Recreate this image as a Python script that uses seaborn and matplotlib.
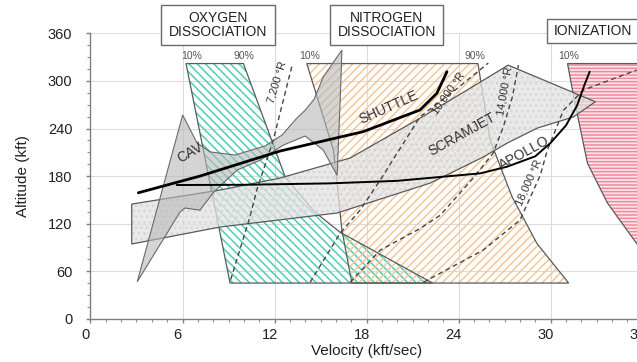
import matplotlib
matplotlib.use("Agg")
import matplotlib.pyplot as plt
from matplotlib.patches import Polygon, Rectangle
from matplotlib.ticker import MultipleLocator
from matplotlib.transforms import ScaledTranslation
import pandas as pd
import seaborn as sns

sns.set_theme(style="whitegrid")
plt.rcParams['font.family'] = ['Liberation Sans', 'DejaVu Sans']
plt.rcParams['hatch.linewidth'] = 1.1

# ---- regions (velocity kft/s, altitude kft) ----
oxy_v = [6.23, 9.97, 12.69, 14.6, 16.28, 22.3, 9.1]
oxy_h = [322, 322, 179, 135, 109, 45, 45]

nit_v = [14.1, 25.26, 26.06, 27.48, 29.1, 31.17, 17.04, 16.39, 15.84]
nit_h = [322, 322, 225, 154, 95, 45, 45, 112, 213]

ion_v = [31.1, 31.5, 32.4, 33.7, 35.6, 36.6, 36.6]
ion_h = [322, 280, 196, 146, 95, 72, 322]

cav_v = [3.05, 6.01, 6.95, 7.8, 9.43, 11.38, 12.49, 13.4, 13.99, 14.58, 15.17, 16.39,
         16.28, 16.08, 15.17, 13.99, 12.56, 11.06, 9.56, 8.64, 7.99, 7.14, 6.16, 5.84]
cav_h = [46.7, 257, 221.8, 210.5, 206.6, 218, 231.8, 252, 263, 277, 305, 339,
         276, 181, 213, 230.5, 219, 200, 187.6, 171, 158.6, 137, 139.7, 134.6]

scram_v = [2.69, 8.45, 12.36, 16.93, 21.5, 24.76, 27.23, 32.91,
           31.47, 29.13, 27.17, 25.6, 22.15, 16.08, 8.45, 2.69]
scram_h = [144.7, 162.4, 177.5, 202.8, 253.3, 291, 320, 273.8,
           254.5, 240.6, 221.7, 204, 171.2, 133.4, 115.7, 94.3]

# ---- trajectories ----
shuttle_v = [3.12, 7.14, 12.36, 17.77, 21.48, 22.58, 23.24]
shuttle_h = [158.9, 180, 211.6, 236, 263.4, 284.5, 311.7]

apollo_v = [5.62, 10.0, 15.6, 20.0, 25.4, 27.15, 29.0, 30.0, 31.0, 31.72, 32.2, 32.54]
apollo_h = [168.7, 169, 170.8, 174, 183.4, 191.8, 205, 222, 244, 269, 295, 311.7]

# ---- constant-temperature lines ----
t7200_v = [13.12, 11.92, 10.84, 10.40, 9.10]
t7200_h = [318, 225.5, 162.4, 128.7, 46.7]
t10000_v = [14.32, 16.28, 17.58, 18.89, 21.49, 23.78, 25.93]
t10000_h = [46, 108, 137, 175, 255, 288.6, 322.6]
t14000_v = [16.93, 18.89, 21.5, 22.8, 24.95, 26.25, 26.91, 27.5, 27.9]
t14000_h = [46, 86.6, 114, 130.6, 177.5, 209, 242, 279.7, 320]
t18000_v = [21.71, 25.6, 28.0, 29.32, 29.78, 30.83, 32.13, 35.6]
t18000_h = [46, 86.6, 124.5, 181, 212.6, 263, 288.6, 313.8]

fig = plt.figure(figsize=(6.37, 3.62), dpi=100)
ax = fig.add_axes([0.142, 0.1196, 0.867, 0.788])
ax.set_xlim(0, 36)
ax.set_ylim(0, 360)


def hatched(vs, hs, color, hatch, z, face='none'):
    pts = list(zip(vs, hs))
    if face != 'none':
        ax.add_patch(Polygon(pts, closed=True, facecolor=face, edgecolor='none', zorder=z - 0.1))
    ax.add_patch(Polygon(pts, closed=True, facecolor='none', edgecolor=color,
                         hatch=hatch, linewidth=0, zorder=z))
    ax.add_patch(Polygon(pts, closed=True, facecolor='none', edgecolor='#5a5a5a',
                         linewidth=0.9, zorder=z + 0.1))


hatched(oxy_v, oxy_h, '#4ccfb0', '\\\\\\\\', 2)
hatched(nit_v, nit_h, '#f4c79a', '////', 2)
hatched(ion_v, ion_h, '#f0899c', '-----', 2, face='#fde6ea')

# translucent vehicle envelopes
scram_pts = list(zip(scram_v, scram_h))
ax.add_patch(Polygon(scram_pts, closed=True, facecolor='#e2e2e2',
                     edgecolor='none', alpha=0.75, zorder=3))
ax.add_patch(Polygon(scram_pts, closed=True, facecolor='none', edgecolor='#cdcdcd',
                     hatch='...', linewidth=0, alpha=0.6, zorder=3.1))
ax.add_patch(Polygon(scram_pts, closed=True, facecolor='none',
                     edgecolor='#5a5a5a', linewidth=0.9, zorder=3.2))
ax.add_patch(Polygon(list(zip(cav_v, cav_h)), closed=True, facecolor='#b8b8b8',
                     edgecolor='none', alpha=0.6, zorder=3.3))
ax.add_patch(Polygon(list(zip(cav_v, cav_h)), closed=True, facecolor='none',
                     edgecolor='#6a6a6a', linewidth=0.8, zorder=3.4))

# temperature lines
for tv, th in [(t7200_v, t7200_h), (t10000_v, t10000_h),
               (t14000_v, t14000_h), (t18000_v, t18000_h)]:
    ax.plot(tv, th, color='#444444', linestyle=(0, (3.5, 2.5)), linewidth=1.0, zorder=4)

# trajectories
traj = pd.concat([
    pd.DataFrame({'v': shuttle_v, 'h': shuttle_h, 'veh': 'Shuttle'}),
    pd.DataFrame({'v': apollo_v, 'h': apollo_h, 'veh': 'Apollo'}),
])
sns.lineplot(data=traj[traj.veh == 'Shuttle'], x='v', y='h', sort=False, estimator=None,
             color='black', linewidth=2.0, ax=ax, zorder=5)
sns.lineplot(data=traj[traj.veh == 'Apollo'], x='v', y='h', sort=False, estimator=None,
             color='black', linewidth=1.4, ax=ax, zorder=5)

txt = dict(color='#333333', fontsize=10, ha='center', va='center', zorder=6)
ax.text(6.49, 210, 'CAV', rotation=30, **txt)
ax.text(19.47, 266.5, 'SHUTTLE', rotation=24, **txt)
ax.text(24.2, 233, 'SCRAMJET', rotation=29, **txt)
ax.text(28.28, 208.7, 'APOLLO', rotation=29, **txt)

tl = dict(color='#333333', fontsize=8, ha='center', va='center', zorder=6)
ax.text(12.15, 298.3, '7,200 °R', rotation=73, **tl)
ax.text(23.32, 284.8, '10,000 °R', rotation=55, **tl)
ax.text(27.04, 287.3, '14,000 °R', rotation=80, **tl)
ax.text(28.6, 172, '18,000 °R', rotation=66, **tl)

pc = dict(color='#555555', fontsize=7.5, ha='center', va='center', zorder=6, clip_on=False)
for xv, lab in [(6.6, '10%'), (10.0, '90%'), (14.32, '10%'), (25.08, '90%'), (31.15, '10%')]:
    ax.text(xv, 331, lab, **pc)

# boxed region titles above the plot
for (x0, x1, y0, y1, xc, yc, lab) in [
        (4.6, 12.04, 345.4, 395.8, 8.32, 370.6, 'OXYGEN\nDISSOCIATION'),
        (15.62, 23.01, 345.4, 395.8, 19.32, 370.6, 'NITROGEN\nDISSOCIATION'),
        (29.76, 36.2, 347.5, 377.8, 32.78, 362.5, 'IONIZATION')]:
    ax.add_patch(Rectangle((x0, y0), x1 - x0, y1 - y0, facecolor='white', edgecolor='#6a6a6a',
                           linewidth=1.0, clip_on=False, zorder=7))
    ax.text(xc, yc, lab, color='#222222', fontsize=10, ha='center', va='center',
            linespacing=1.0, clip_on=False, zorder=8)

ax.set_xticks(range(0, 37, 6))
ax.set_yticks(range(0, 361, 60))
ax.xaxis.set_minor_locator(MultipleLocator(1))
ax.yaxis.set_minor_locator(MultipleLocator(15))
ax.grid(True, which='major', color='#dcdcdc', linewidth=0.8)
ax.set_facecolor('white')
for s in ['top', 'right']:
    ax.spines[s].set_visible(False)
for s in ['left', 'bottom']:
    ax.spines[s].set_color('#808080')
    ax.spines[s].set_linewidth(1.0)
ax.tick_params(axis='both', which='major', labelsize=10.5, colors='#808080', labelcolor='#222222',
               length=3, width=1, direction='out', left=True, bottom=True)
ax.tick_params(axis='y', which='major', pad=10)
ax.tick_params(axis='x', which='major', pad=4)
ax.tick_params(axis='both', which='minor', length=2, width=0.8, colors='#909090',
               direction='out', left=True, bottom=True)
shift = ScaledTranslation(-5 / 100, 0, fig.dpi_scale_trans)
for lbl in ax.get_xticklabels():
    lbl.set_transform(lbl.get_transform() + shift)
ax.set_xlabel('Velocity (kft/sec)', fontsize=11, color='#222222', labelpad=1)
ax.set_ylabel('Altitude (kft)', fontsize=11, color='#222222', labelpad=13)

fig.savefig('out.png', dpi=100)
